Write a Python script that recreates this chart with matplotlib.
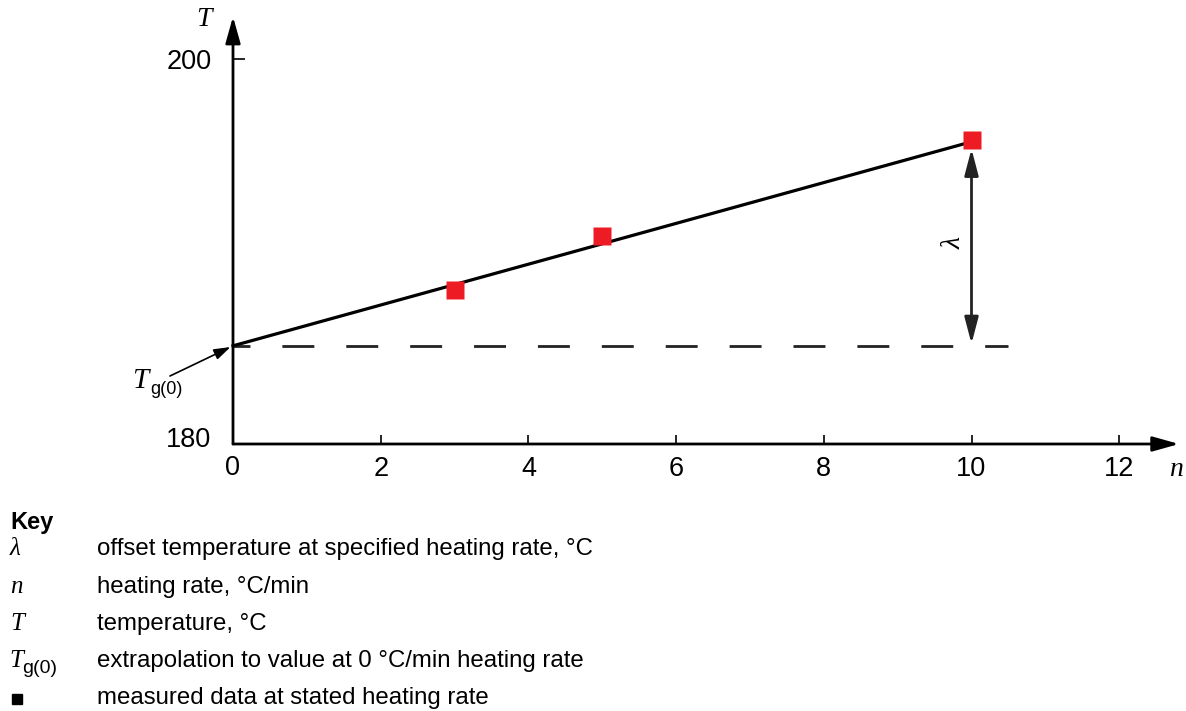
import matplotlib
matplotlib.use("Agg")
import matplotlib.pyplot as plt
from matplotlib.lines import Line2D

plt.rcParams['font.family'] = ['Liberation Sans', 'DejaVu Sans']
plt.rcParams['lines.scale_dashes'] = False

SERIF_IT = dict(family=['Liberation Serif', 'DejaVu Serif'], style='italic')

# measured heating rates (°C/min) and temperatures (°C)
rate = [3, 5, 10]
temp = [188.0, 190.8, 195.8]

# fitted straight line through the measurements
fit_rate = [0, 10]
fit_temp = [185.1, 195.7]
tg0 = fit_temp[0]

x_ticks = [0, 2, 4, 6, 8, 10, 12]
x_tick_labels = ['0', '2', '4', '6', '8', '10', '12']
y_ticks = [180, 200]
y_tick_labels = ['180', '200']

key_symbols = ['λ', 'n', 'T', 'Tg0', 'square']
key_texts = ['offset temperature at specified heating rate, °C',
             'heating rate, °C/min',
             'temperature, °C',
             'extrapolation to value at 0 °C/min heating rate',
             'measured data at stated heating rate']

W, H = 1186, 711
fig = plt.figure(figsize=(W / 100, H / 100), dpi=100)


def fx(px):
    return px / W


def fy(py):
    return 1 - py / H


def t_sub(px, py, size, sub_dx, sub_dy, sub_size):
    """Italic serif T with an upright sans subscript g(0); py is the baseline."""
    fig.text(fx(px), fy(py), 'T', fontsize=size, ha='left', va='baseline',
             **SERIF_IT)
    fig.text(fx(px + sub_dx), fy(py + sub_dy), 'g(0)', fontsize=sub_size,
             ha='left', va='baseline')


x0, y0 = 233, 444
sx, sy = 73.85, 19.25
xmax, ymax = 12.81, 202.2
ax = fig.add_axes([fx(x0), fy(y0), xmax * sx / W, (ymax - 180) * sy / H])
ax.set_xlim(0, xmax)
ax.set_ylim(180, ymax)
for s in ax.spines.values():
    s.set_visible(False)
ax.patch.set_visible(False)

ax.set_xticks(x_ticks[1:])
ax.set_xticklabels(x_tick_labels[1:], fontsize=19.5)
ax.set_yticks(y_ticks[1:])
ax.set_yticklabels(y_tick_labels[1:], fontsize=19.5)
ax.tick_params(axis='x', direction='in', length=6.5, width=1.2, pad=9)
ax.tick_params(axis='y', direction='in', length=8.5, width=1.2, pad=15)
fig.text(fx(233), fy(468), x_tick_labels[0], fontsize=19.5,
         ha='center', va='center')
fig.text(fx(211), fy(440), y_tick_labels[0], fontsize=19.5,
         ha='right', va='center')

# axes with arrowheads
axis_style = '-|>,head_length=1.6,head_width=0.45'
ax.annotate('', xy=(xmax, 180), xytext=(0, 180),
            arrowprops=dict(arrowstyle=axis_style, lw=2, color='black',
                            mutation_scale=10, shrinkA=0, shrinkB=0),
            annotation_clip=False)
ax.annotate('', xy=(0, ymax), xytext=(0, 180),
            arrowprops=dict(arrowstyle=axis_style, lw=2, color='black',
                            mutation_scale=10, shrinkA=0, shrinkB=0),
            annotation_clip=False)
fig.text(fx(204), fy(19), 'T', fontsize=20, ha='center', va='center',
         **SERIF_IT)
fig.text(fx(1176), fy(469), 'n', fontsize=20, ha='center', va='center',
         **SERIF_IT)

# horizontal reference at the extrapolated value
ax.plot([0, 10.5], [tg0, tg0], color='#222222', lw=2,
        linestyle=(10.8, (23, 23)), solid_capstyle='butt',
        dash_capstyle='butt', clip_on=False)

# fitted line and measured points
ax.plot(fit_rate, fit_temp, color='black', lw=2.3, clip_on=False)
ax.plot(rate, temp, linestyle='none', marker='s', markersize=13,
        markerfacecolor='#ED1C24', markeredgecolor='none', clip_on=False,
        zorder=5)

# offset arrow
ax.annotate('', xy=(10, tg0), xytext=(10, temp[-1]),
            arrowprops=dict(arrowstyle='<|-|>,head_length=1.6,head_width=0.42',
                            lw=2, color='#222222', mutation_scale=10,
                            shrinkA=6.5, shrinkB=1.5))
ax.text(9.77, (tg0 + temp[-1]) / 2, 'λ', fontsize=20,
        rotation=90, ha='center', va='center', **SERIF_IT)

# extrapolated value label
ax.annotate('', xy=(0, tg0), xytext=(fx(170), fy(376)),
            textcoords='figure fraction',
            arrowprops=dict(arrowstyle='-|>,head_length=1.0,head_width=0.33',
                            lw=1.2, color='black', mutation_scale=10,
                            shrinkA=0, shrinkB=2),
            annotation_clip=False)
t_sub(132, 388, 21, 18, 6, 13)

# key
fig.text(fx(10), fy(522), 'Key', fontsize=17, fontweight='bold',
         ha='left', va='center')
rows_y = [549, 587, 624, 661, 698]
for sym, txt, py in zip(key_symbols, key_texts, rows_y):
    if sym == 'square':
        fig.add_artist(Line2D([fx(17)], [fy(699)], marker='s', markersize=7.2,
                              color='black', linestyle='none',
                              transform=fig.transFigure))
    elif sym == 'Tg0':
        t_sub(9, 667, 18, 13, 6, 14)
    else:
        fig.text(fx(10), fy(py), sym, fontsize=18, ha='left', va='center',
                 **SERIF_IT)
    fig.text(fx(97), fy(py), txt, fontsize=17.3, ha='left', va='center')

fig.savefig('out.png', dpi=100)
